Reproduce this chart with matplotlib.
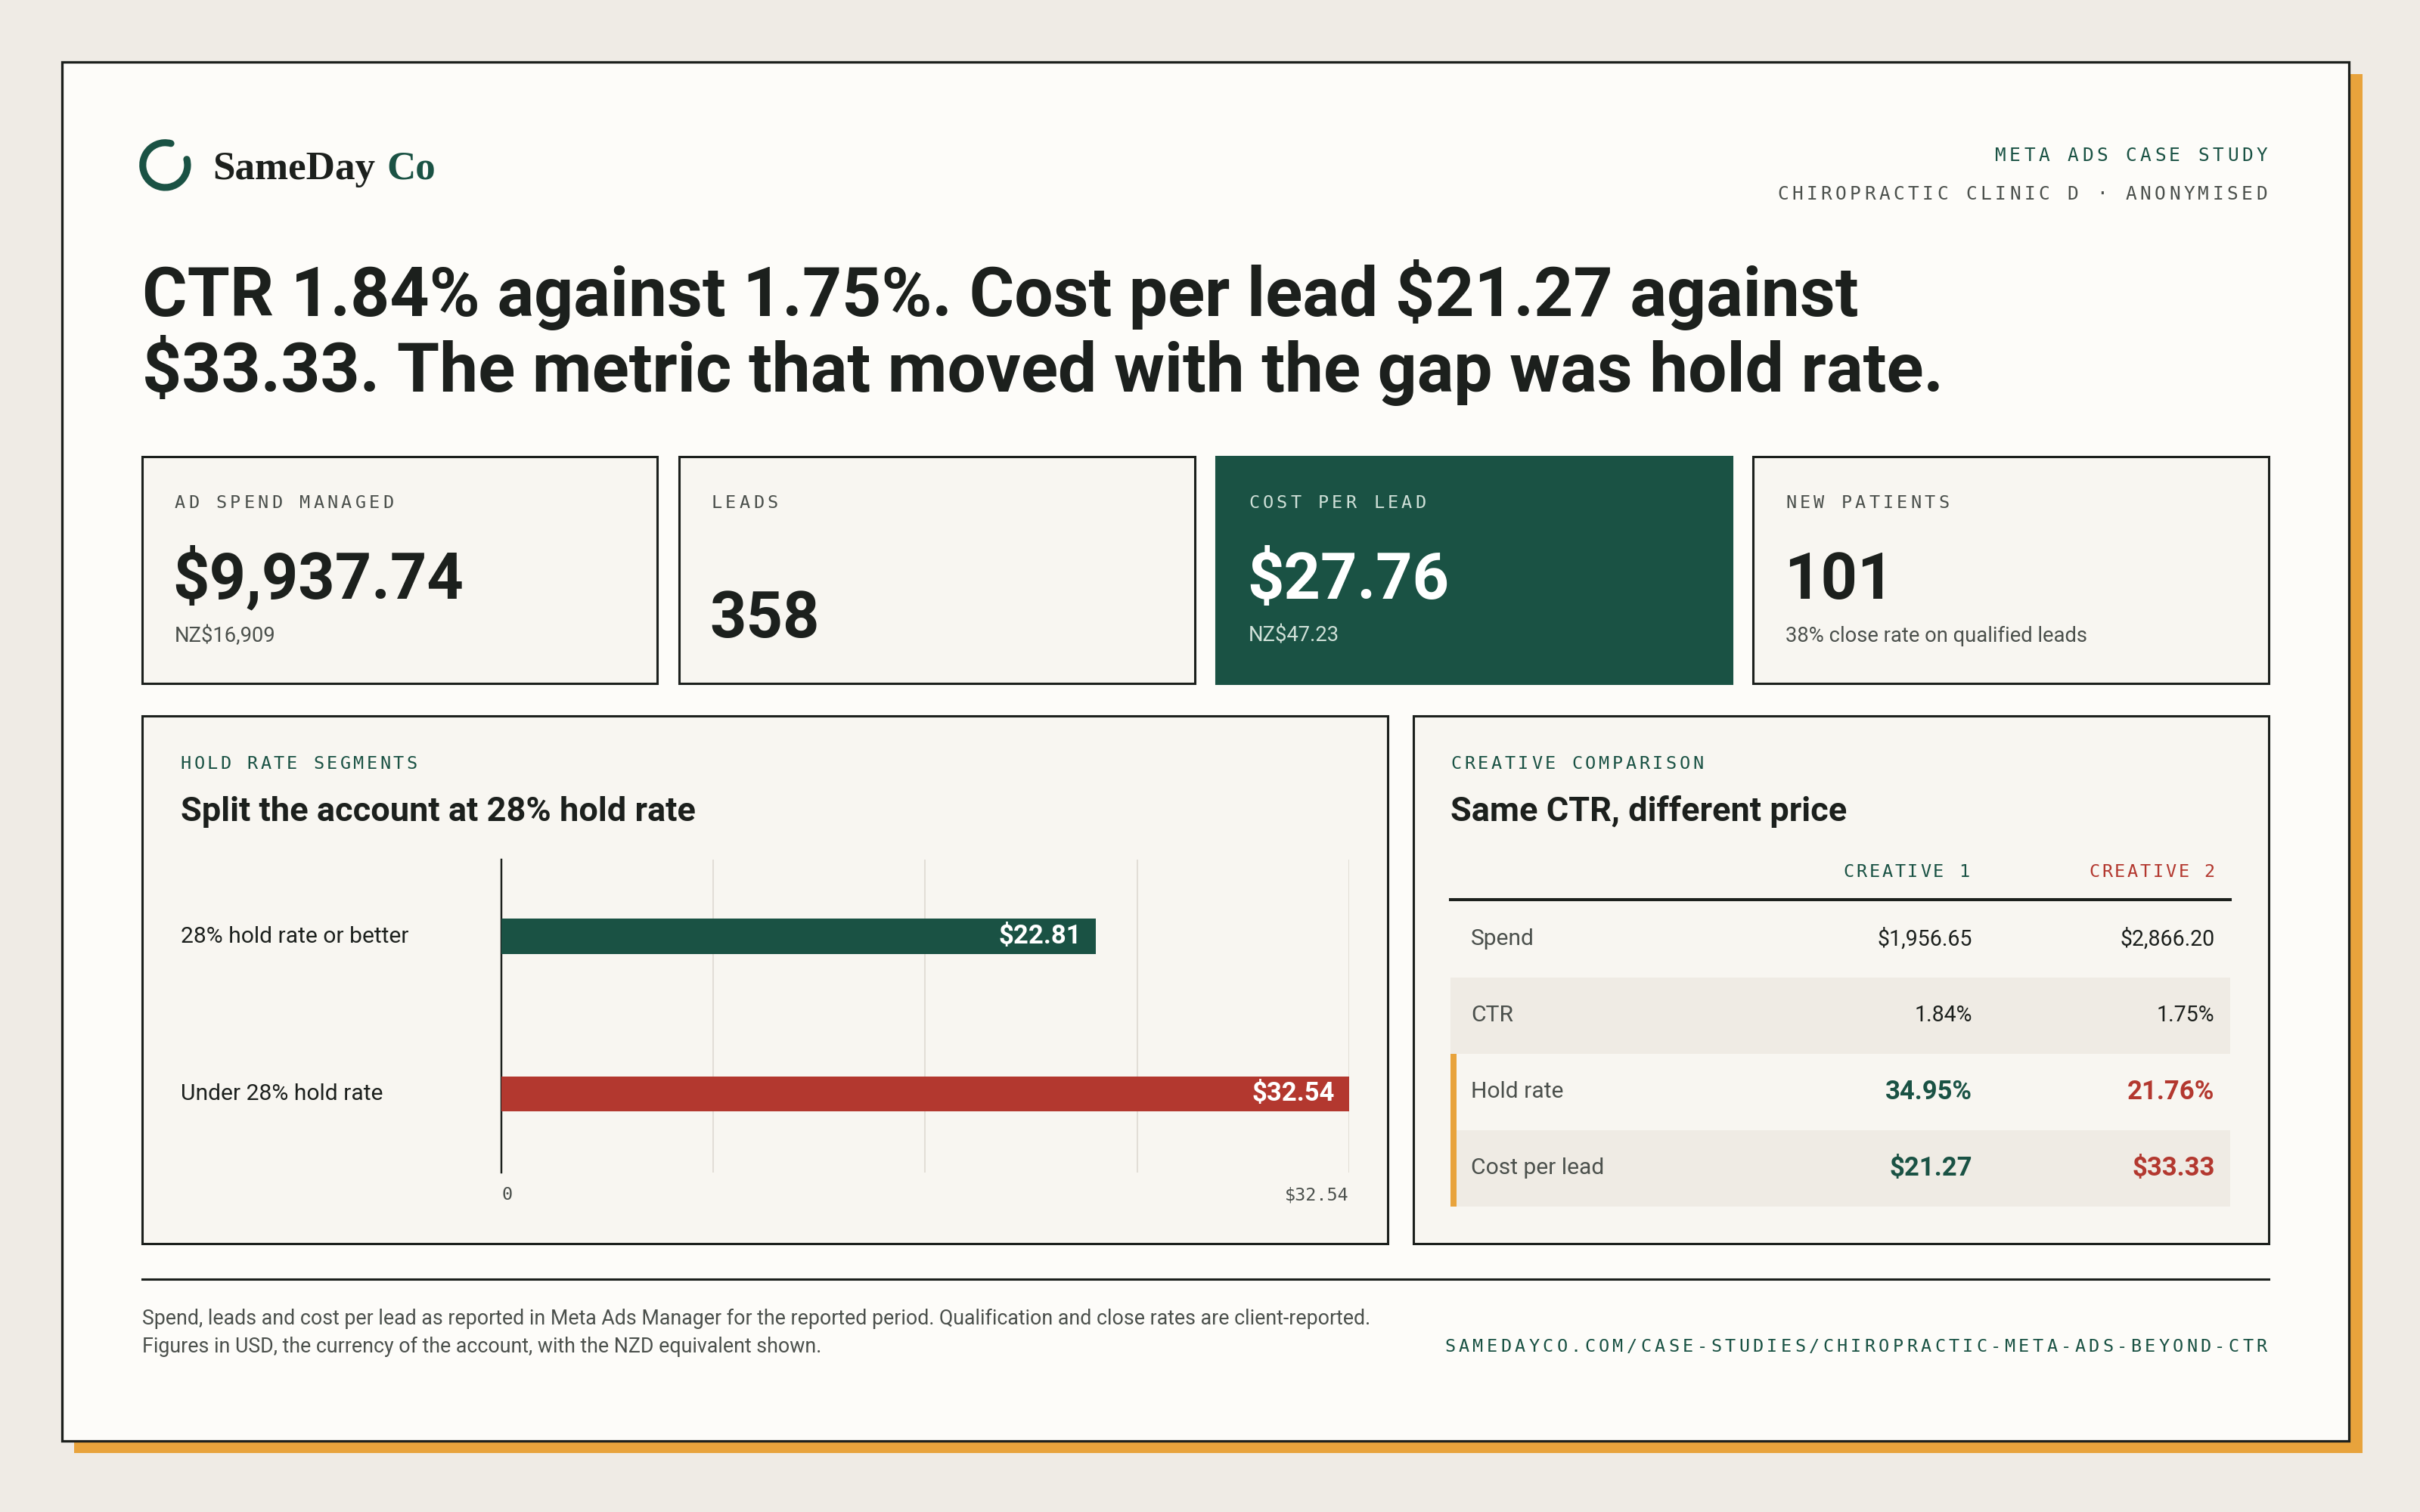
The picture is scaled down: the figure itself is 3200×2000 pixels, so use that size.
import matplotlib
matplotlib.use("Agg")
import matplotlib.pyplot as plt
from matplotlib.patches import Rectangle, Arc
import numpy as np

# layout is worked out in a 1568 x 980 grid and scaled to 3200 x 2000 px
W, H = 1568, 980
K = 72 * (3200 / W) / 200  # grid px -> points

BG = "#EFEBE5"
CARD = "#FDFCF9"
PANEL = "#F8F6F1"
SHADE = "#EFEBE4"
INK = "#1C201D"
GREY = "#4B504C"
GREEN = "#1A5244"
RED = "#B3382F"
GOLD = "#E8A33C"
GRIDC = "#E2DED7"
PALE = "#CFE0D8"

SANS = ["Roboto", "DejaVu Sans"]
MONO = ["DejaVu Sans Mono"]
SERIF = ["Liberation Serif", "DejaVu Serif"]

# ---- data ----
headline = ["CTR 1.84% against 1.75%. Cost per lead $21.27 against",
            "$33.33. The metric that moved with the gap was hold rate."]
kpi_labels = ["AD SPEND MANAGED", "LEADS", "COST PER LEAD", "NEW PATIENTS"]
kpi_values = ["$9,937.74", "358", "$27.76", "101"]
kpi_notes = ["NZ$16,909", "", "NZ$47.23", "38% close rate on qualified leads"]
segments = ["28% hold rate or better", "Under 28% hold rate"]
segment_cpl = [22.81, 32.54]
metrics = ["Spend", "CTR", "Hold rate", "Cost per lead"]
creative_1 = ["$1,956.65", "1.84%", "34.95%", "$21.27"]
creative_2 = ["$2,866.20", "1.75%", "21.76%", "$33.33"]
footnote = ["Spend, leads and cost per lead as reported in Meta Ads Manager for the reported period. "
            "Qualification and close rates are client-reported.",
            "Figures in USD, the currency of the account, with the NZD equivalent shown."]
url = "SAMEDAYCO.COM/CASE-STUDIES/CHIROPRACTIC-META-ADS-BEYOND-CTR"

fig = plt.figure(figsize=(16, 10), dpi=200, facecolor=BG)
ax = fig.add_axes([0, 0, 1, 1])
ax.set_xlim(0, W)
ax.set_ylim(H, 0)
ax.axis("off")


def txt(x, y, s, px, color=INK, weight="normal", ha="left", va="baseline", family=SANS, z=5):
    return ax.text(x, y, s, fontsize=px * K, color=color, fontweight=weight, ha=ha, va=va,
                   family=family, zorder=z)


def mono(x, y, s, px=11.5, step=9.0, color=GREEN, ha="left"):
    adv = 0.602 * px
    if ha == "right":
        x = x - (len(s) - 1) * step - adv
    for i, ch in enumerate(s):
        if ch != " ":
            ax.text(x + i * step + adv / 2, y, ch, fontsize=px * K, color=color, ha="center",
                    va="center", family=MONO, zorder=5)


def box(x, y, w, h, fc, ec=INK, lw=1.5, z=2):
    ax.add_patch(Rectangle((x, y), w, h, facecolor=fc, edgecolor=ec, linewidth=lw * K, zorder=z))


# card + gold shadow
box(48, 48, 1483, 894, GOLD, ec="none", z=0)
box(40, 40, 1482, 894, CARD, lw=1.6, z=1)

# logo
ax.add_patch(Arc((107, 107), 29, 29, theta1=-15, theta2=285, color=GREEN, lw=4.5 * K,
                 capstyle="round", zorder=5))
brand = txt(138, 116, "SameDay", 26, family=SERIF, weight="bold")
fig.canvas.draw()
bb = brand.get_window_extent().transformed(ax.transData.inverted())
txt(bb.x1 + 7, 116, "Co", 26, color=GREEN, family=SERIF, weight="bold")

mono(1469, 101, "META ADS CASE STUDY", px=12, step=9.4, color=GREEN, ha="right")
mono(1469, 126, "CHIROPRACTIC CLINIC D · ANONYMISED", px=12, step=9.4, color=GREY, ha="right")

# headline
for i, line in enumerate(headline):
    txt(92, 205 + i * 49, line, 44.6, weight="bold")

# KPI cards
card_x = [92, 440, 788, 1136]
for i, x in enumerate(card_x):
    dark = i == 2
    box(x, 296, 334, 147, GREEN if dark else PANEL, ec=GREEN if dark else INK, lw=1.5)
    mono(x + 21, 326, kpi_labels[i], px=11.5, step=9.0, color=PALE if dark else GREY)
    vy = 388 if kpi_notes[i] else 413
    txt(x + 20, vy, kpi_values[i], 41.5, color="white" if dark else INK, weight="bold")
    if kpi_notes[i]:
        txt(x + 21, 416, kpi_notes[i], 13.4, color=PALE if dark else GREY)

# bottom panels
box(92, 464, 807, 342, PANEL)
box(916, 464, 554, 342, PANEL)

mono(117, 495, "HOLD RATE SEGMENTS", px=11.5, step=8.6, color=GREEN)
txt(117, 532, "Split the account at 28% hold rate", 22.1, weight="bold")
mono(940, 495, "CREATIVE COMPARISON", px=11.5, step=8.7, color=GREEN)
txt(940, 532, "Same CTR, different price", 22.1, weight="bold")

# hold rate bars
bx0, bx1, by0, by1 = 325, 874, 557, 760
bax = fig.add_axes([bx0 / W, 1 - by1 / H, (bx1 - bx0) / W, (by1 - by0) / H])
bax.patch.set_alpha(0)
xmax = max(segment_cpl)
ypos = np.arange(len(segments))
bars = bax.barh(ypos, segment_cpl, height=0.225, color=[GREEN, RED], zorder=3)
bax.set_xlim(0, xmax)
bax.set_ylim(1.5, -0.49)
for b, v in zip(bars, segment_cpl):
    bax.annotate(f"${v:.2f}", (v, b.get_y() + b.get_height() / 2), xytext=(-9 * K, 0),
                 textcoords="offset points", ha="right", va="center", color="white",
                 fontsize=17 * K, fontweight="bold", family=SANS, zorder=4)
ticks = np.linspace(0, xmax, 5)
bax.set_xticks(ticks)
bax.set_xticklabels(["0", "", "", "", f"${xmax:.2f}"], family=MONO, fontsize=11.5 * K,
                    color=GREY)
tl = bax.get_xticklabels()
tl[0].set_ha("left")
tl[-1].set_ha("right")
bax.tick_params(axis="x", length=0, pad=9 * K)
bax.set_yticks([])
bax.grid(axis="x", color=GRIDC, lw=1 * K, zorder=0)
for s in ["top", "right", "bottom"]:
    bax.spines[s].set_visible(False)
bax.spines["left"].set_color(INK)
bax.spines["left"].set_linewidth(1.2 * K)
for i, name in enumerate(segments):
    txt(117, 607 + i * 102, name, 14.7, va="center")

# creative comparison table
mono(1276, 565, "CREATIVE 1", px=11.5, step=8.3, color=GREEN, ha="right")
mono(1435, 565, "CREATIVE 2", px=11.5, step=8.3, color=RED, ha="right")
ax.plot([940, 1445], [583, 583], color=INK, lw=2 * K, zorder=4)
row_h = 49.5
for i, name in enumerate(metrics):
    top = 584 + i * row_h
    if i % 2 == 1:
        box(940, top, 505, row_h, SHADE, ec="none", z=3)
    cy = top + row_h / 2
    txt(953, cy, name, 14.7, color=GREY, va="center")
    strong = i >= 2
    txt(1278, cy, creative_1[i], 17 if strong else 14, color=GREEN if strong else INK,
        weight="bold" if strong else "normal", ha="right", va="center")
    txt(1435, cy, creative_2[i], 17 if strong else 14, color=RED if strong else INK,
        weight="bold" if strong else "normal", ha="right", va="center")
box(940, 584 + 2 * row_h, 3.5, 2 * row_h, GOLD, ec="none", z=4)

# footer
ax.plot([92, 1470], [829, 829], color=INK, lw=1.5 * K, zorder=4)
for i, line in enumerate(footnote):
    txt(92, 855 + i * 18, line, 13.1, color=GREY, va="center")
mono(1469, 873, url, px=11.5, step=9.07, color=GREEN, ha="right")

fig.savefig("out.png", dpi=200, facecolor=BG)
